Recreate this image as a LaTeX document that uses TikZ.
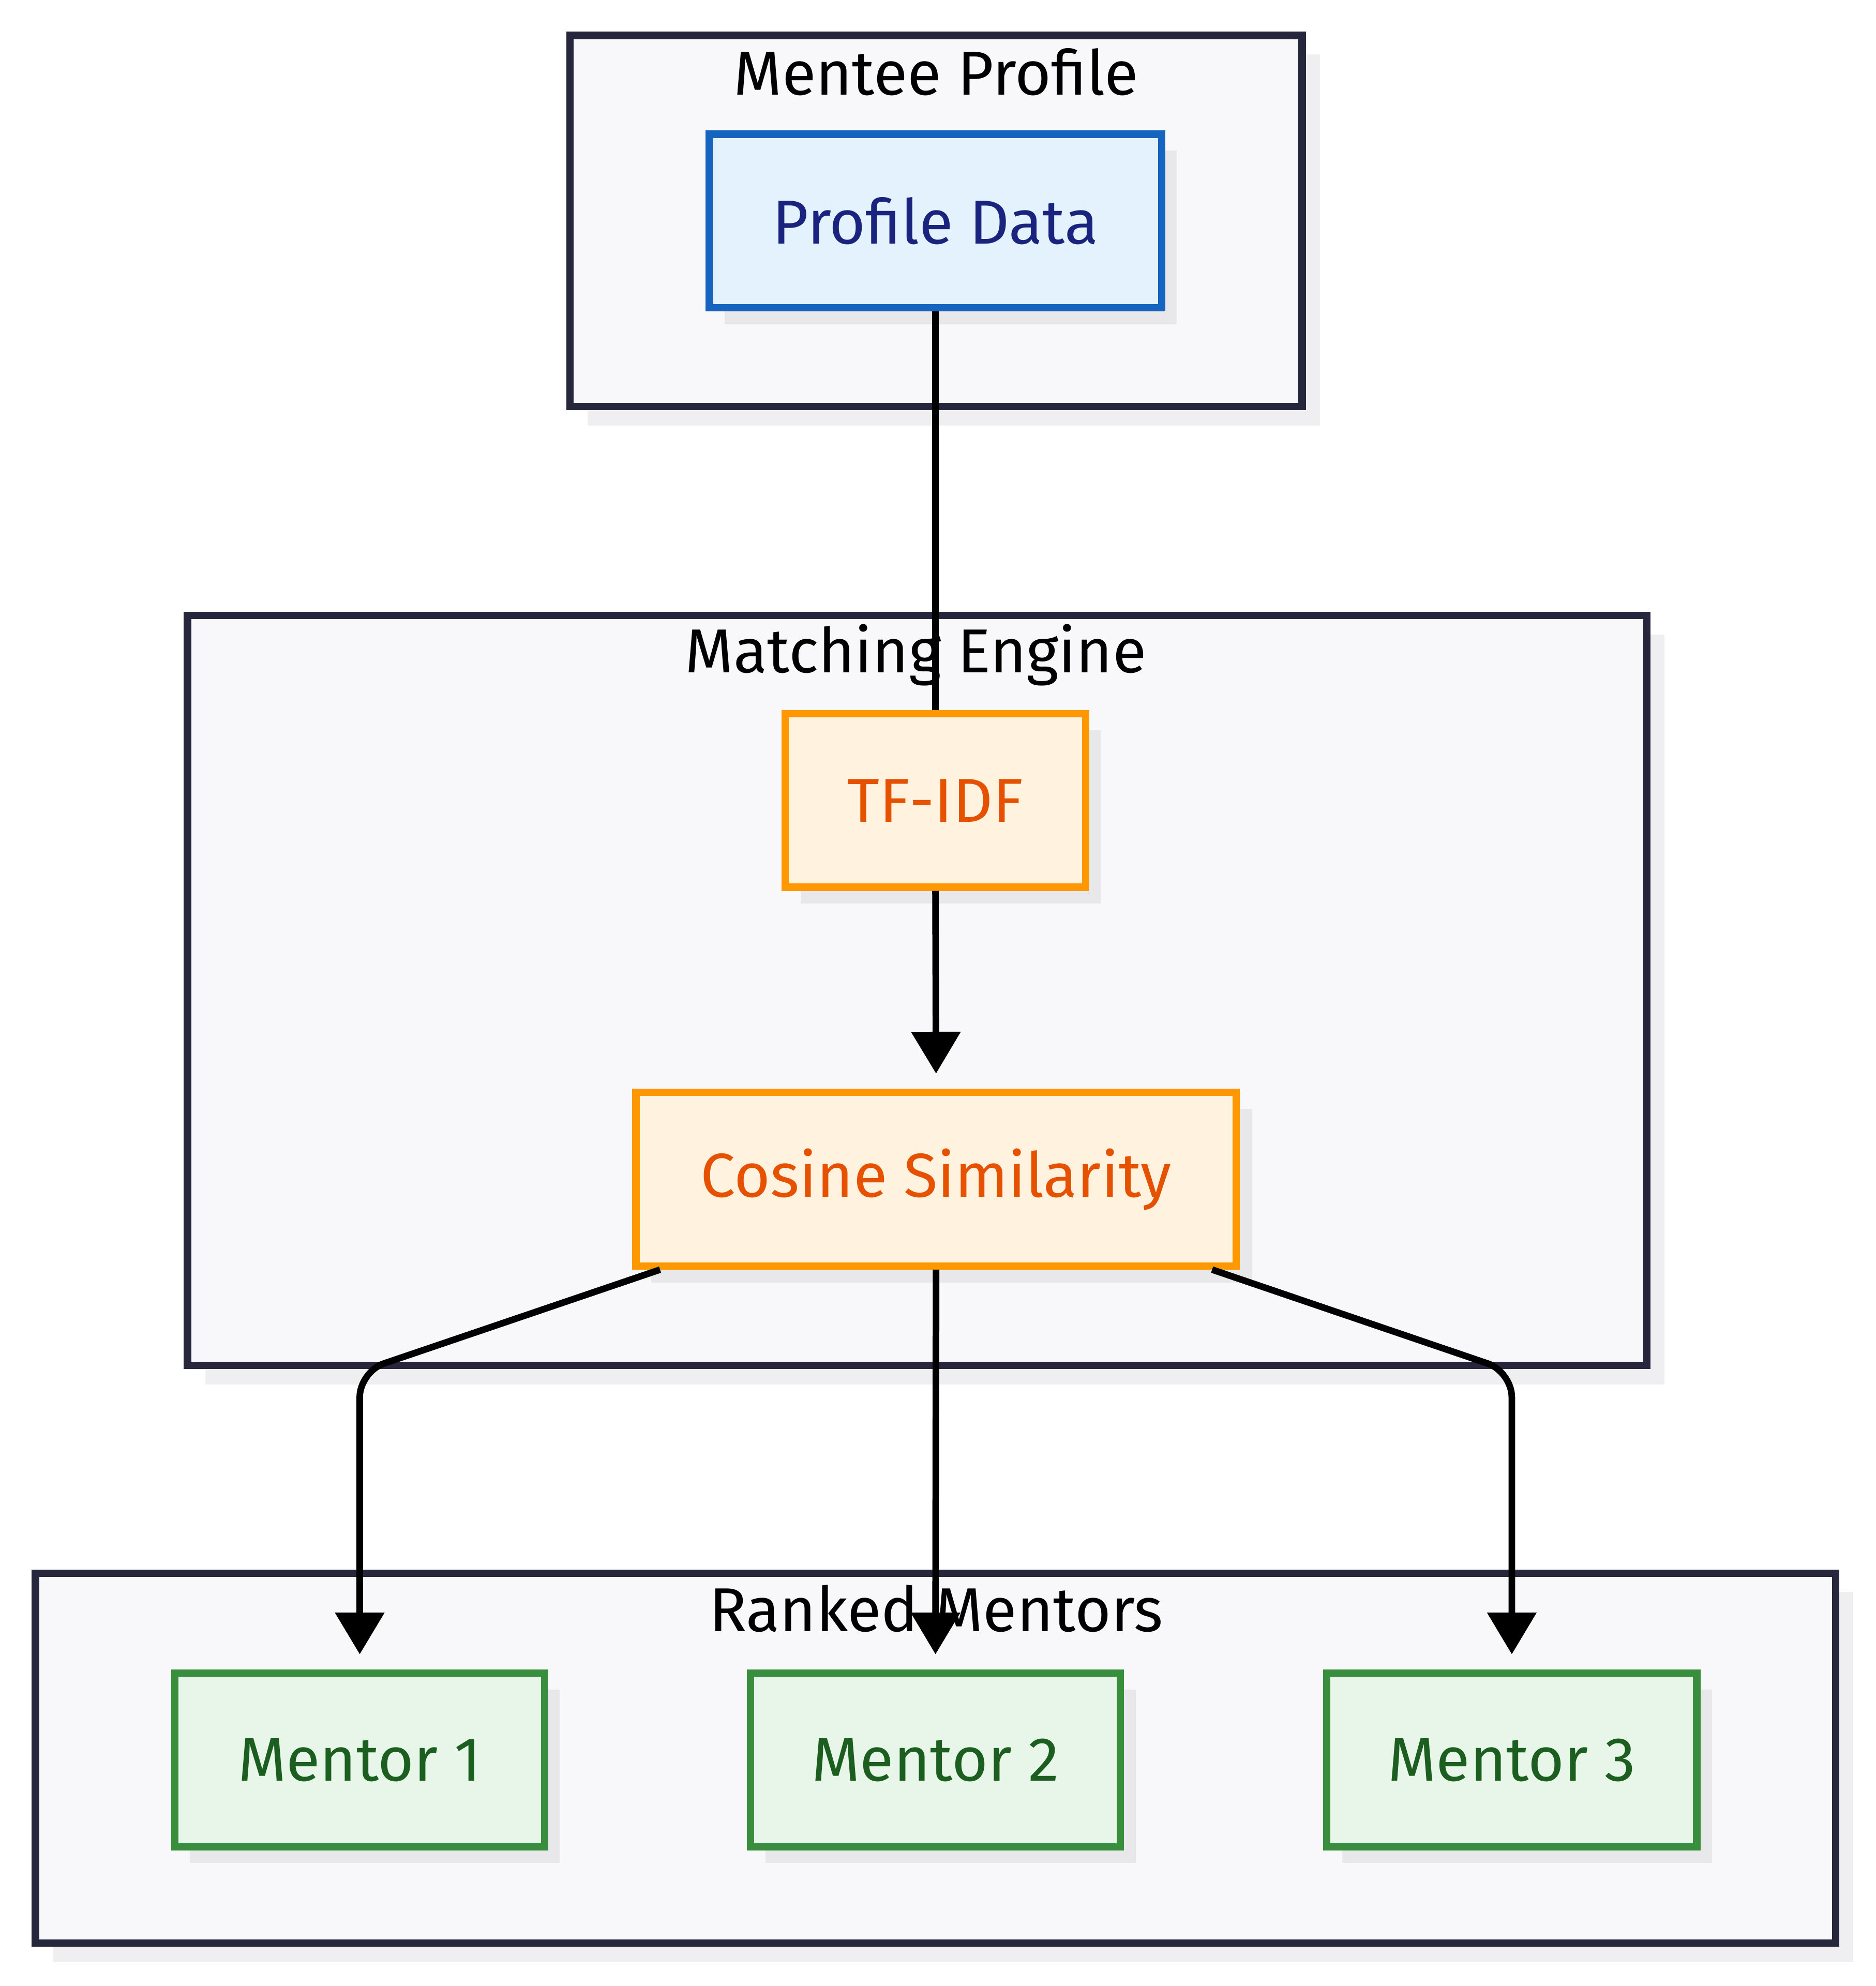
\documentclass[tikz,border=0pt]{standalone}
\usepackage{fontspec}
\setmainfont{Fira Sans}
\usetikzlibrary{arrows.meta,shadows}
\definecolor{clfill}{HTML}{F8F8FA}
\definecolor{clline}{HTML}{26263C}
\definecolor{clshadow}{HTML}{EFEFF1}
\definecolor{ndshadow}{HTML}{E8E8EB}
\definecolor{bluefill}{HTML}{E3F2FD}
\definecolor{blueline}{HTML}{1565C0}
\definecolor{bluetext}{HTML}{1A237E}
\definecolor{orangefill}{HTML}{FFF3E0}
\definecolor{orangeline}{HTML}{FF9800}
\definecolor{orangetext}{HTML}{E65100}
\definecolor{greenfill}{HTML}{E8F5E9}
\definecolor{greenline}{HTML}{388E3C}
\definecolor{greentext}{HTML}{1B5E20}

\begin{document}
\begin{tikzpicture}[x=0.5pt,y=-0.5pt,
  every node/.style={font=\fontsize{24.5}{30}\selectfont},
  cluster/.style={draw=clline,fill=clfill,line width=2.9pt,
    drop shadow={shadow xshift=7pt,shadow yshift=-7.5pt,fill=clshadow,opacity=1}},
  title/.style={anchor=base,text=black},
  box/.style={draw,line width=2.9pt,minimum height=68.5pt,inner sep=0pt,
    drop shadow={shadow xshift=6pt,shadow yshift=-6.5pt,fill=ndshadow,opacity=1}},
  bluebox/.style={box,draw=blueline,fill=bluefill,text=bluetext},
  orangebox/.style={box,draw=orangeline,fill=orangefill,text=orangetext},
  greenbox/.style={box,draw=greenline,fill=greenfill,text=greentext,minimum width=146pt},
  link/.style={line width=2.6pt,rounded corners=10pt},
  arrow/.style={link,-{Triangle[length=16.5pt,width=19pt]},shorten >=6pt}]
\useasboundingbox (0,0) rectangle (1481,1568);
% groups
\draw[cluster] (450,28) rectangle (1028,321);
\draw[cluster] (148,486) rectangle (1300,1078);
\draw[cluster] (28,1242) rectangle (1449,1534);
\node[title] (mentee) at (739,75) {Mentee Profile};
\node[title] (engine) at (723,531) {Matching Engine};
\node[title] (ranked) at (739,1288) {Ranked Mentors};
% nodes
\node[bluebox,minimum width=178.5pt] (pd) at (738.5,174.5) {Profile Data};
\node[orangebox,minimum width=118.5pt] (tf) at (738.5,632) {TF-IDF};
\node[orangebox,minimum width=237pt] (cs) at (739,931) {Cosine Similarity};
\node[greenbox] (m1) at (284,1389.5) {Mentor 1};
\node[greenbox] (m2) at (738.5,1389.5) {Mentor 2};
\node[greenbox] (m3) at (1193.5,1389.5) {Mentor 3};
% links
\coordinate (bl) at (284,1083);
\coordinate (br) at (1193.5,1083);
\draw[link] (pd.south) -- (tf.north);
\draw[arrow] (tf.south) -- (cs.north);
\draw[arrow] ([xshift=11pt]cs.south west) -- (bl) -- (m1.north);
\draw[arrow] (cs.south) -- (m2.north);
\draw[arrow] ([xshift=-11pt]cs.south east) -- (br) -- (m3.north);
\end{tikzpicture}
\end{document}
